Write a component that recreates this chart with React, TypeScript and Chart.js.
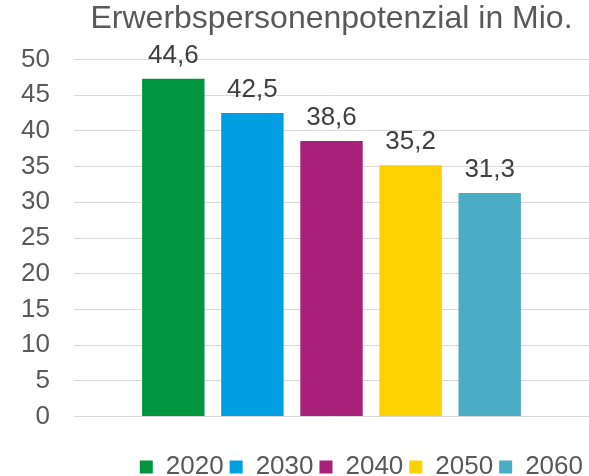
import React, { useEffect, useRef } from "react";
import { Chart, registerables } from "chart.js";

Chart.register(...registerables);

const categories: string[] = [""];
const years: string[] = ["2020", "2030", "2040", "2050", "2060"];
const barValues: number[] = [47.3, 42.5, 38.6, 35.2, 31.3];
const valueLabels: string[] = ["44,6", "42,5", "38,6", "35,2", "31,3"];
const colors: string[] = ["#00963F", "#009FE3", "#A8207A", "#FDD100", "#4BACC6"];
const titleText = "Erwerbspersonenpotenzial in Mio.";
const yMin = 0;
const yMax = 50;
const yStep = 5;

const FONT = "Arial, 'Liberation Sans', sans-serif";

const valueLabelPlugin = {
  id: "valueLabels",
  afterDatasetsDraw(chart: any) {
    const ctx = chart.ctx;
    ctx.save();
    ctx.font = `26px ${FONT}`;
    ctx.fillStyle = "#404040";
    ctx.textAlign = "center";
    ctx.textBaseline = "alphabetic";
    chart.data.datasets.forEach((_ds: any, i: number) => {
      const meta = chart.getDatasetMeta(i);
      meta.data.forEach((el: any) => {
        ctx.fillText(valueLabels[i], el.x, el.y - 16);
      });
    });
    ctx.restore();
  },
};

export default function App() {
  const canvasRef = useRef<HTMLCanvasElement | null>(null);

  useEffect(() => {
    if (!canvasRef.current) return;
    const chart = new Chart(canvasRef.current, {
      type: "bar",
      data: {
        labels: categories,
        datasets: years.map((y, i) => ({
          label: y,
          data: [barValues[i]],
          backgroundColor: colors[i],
          borderWidth: 0,
          categoryPercentage: 0.768,
          barPercentage: 0.789,
        })),
      },
      options: {
        responsive: false,
        animation: false,
        layout: { padding: { top: 0, left: 21, right: 0, bottom: -14 } },
        plugins: {
          tooltip: { enabled: false },
          title: {
            display: true,
            text: titleText,
            fullSize: false,
            color: "#595959",
            font: { family: FONT, size: 32, weight: "normal", lineHeight: 1.2 },
            padding: { top: 0, bottom: 21.1 },
          },
          legend: {
            display: true,
            position: "bottom",
            align: "end",
            fullSize: false,
            labels: {
              boxWidth: 13,
              boxHeight: 13,
              padding: 6,
              color: "#595959",
              font: { family: FONT, size: 26 },
            },
          },
        },
        scales: {
          x: {
            display: true,
            grid: { display: false, drawTicks: false },
            border: { display: false },
            ticks: { display: false },
            title: {
              display: true,
              text: "",
              font: { size: 10, lineHeight: 1 },
              padding: { top: 21.5, bottom: 0 },
            },
          },
          y: {
            min: yMin,
            max: yMax,
            afterFit: (scale: any) => {
              scale.width = 53;
            },
            grid: { color: "#D9D9D9", lineWidth: 1, drawTicks: false },
            border: { display: false },
            ticks: {
              stepSize: yStep,
              padding: 24,
              color: "#595959",
              font: { family: FONT, size: 26 },
            },
          },
        },
      },
      plugins: [valueLabelPlugin],
    });
    return () => chart.destroy();
  }, []);

  return (
    <div style={{ position: "fixed", left: 0, top: 0, width: 589, height: 476, overflow: "hidden", background: "#fff" }}>
      <canvas ref={canvasRef} width={589} height={476} style={{ display: "block" }} />
    </div>
  );
}
